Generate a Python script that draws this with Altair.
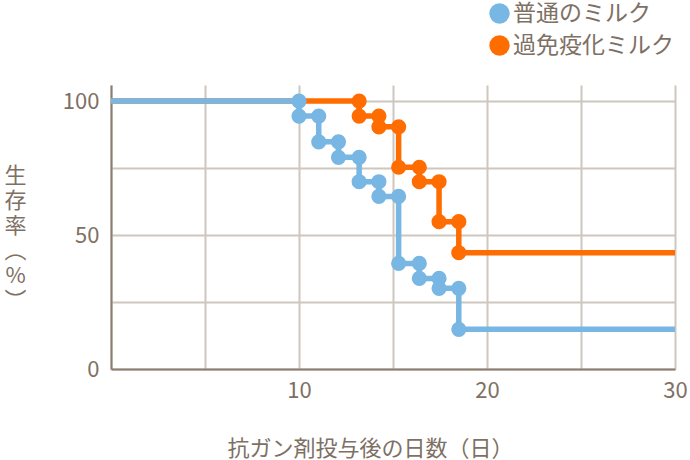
import altair as alt
import pandas as pd

# ---- data ----
series_names = ["普通のミルク", "過免疫化ミルク"]
series_colors = ["#78b6e3", "#ff6c00"]

start_day = 0
end_day = 30
start_survival = 100

normal_days = [10, 11.05, 12.1, 13.2, 14.25, 15.3, 16.4, 17.45, 18.5]
normal_surv = [94.4, 84.8, 79.0, 69.9, 64.4, 39.4, 33.8, 30.1, 14.8]

immune_days = [13.2, 14.25, 15.3, 16.4, 17.45, 18.5]
immune_surv = [94.4, 90.4, 75.3, 69.9, 55.0, 43.4]

x_grid = [0, 5, 10, 15, 20, 25, 30]
y_grid = [0, 25, 50, 75, 100]

TEXT = "#7e7064"
GRID = "#cdc7c0"
AXIS = "#8a7c70"
FONT = "Noto Sans CJK JP"

# ---- tables ----
line_rows, point_rows = [], []
for name, days, surv in [(series_names[0], normal_days, normal_surv),
                         (series_names[1], immune_days, immune_surv)]:
    line_rows.append({"series": name, "day": start_day, "surv": start_survival})
    prev = start_survival
    for d, s in zip(days, surv):
        line_rows.append({"series": name, "day": d, "surv": s})
        point_rows.append({"series": name, "day": d, "surv": prev})
        point_rows.append({"series": name, "day": d, "surv": s})
        prev = s
    line_rows.append({"series": name, "day": end_day, "surv": prev})

lines = pd.DataFrame(line_rows)
points = pd.DataFrame(point_rows)

xs = alt.Scale(domain=[0, 30], nice=False, zero=False)
ys = alt.Scale(domain=[0, 106], nice=False)
cscale = alt.Scale(domain=series_names, range=series_colors)

x_axis = alt.Axis(
    values=x_grid, grid=True, ticks=False, labelPadding=11, labelFlush=False,
    labelOverlap=False,
    labelExpr="datum.value % 10 === 0 && datum.value > 0 ? datum.label : ''",
    title="抗ガン剤投与後の日数（日）", titleX=259, titleY=79,
    titleBaseline="middle", titleAnchor="middle", titleAlign="center",
)
y_axis = alt.Axis(
    values=y_grid, grid=True, ticks=False, labelPadding=12, labelFlush=False,
    labelOverlap=False,
    labelExpr="datum.value % 50 === 0 ? datum.label : ''",
    title=["生", "存", "率", "︵", "%", "︶"], titleAngle=0,
    titleX=-96, titleY=90, titleAlign="center", titleBaseline="middle",
    titleLineHeight=25,
)

def line_layer(i):
    return alt.Chart(lines).transform_filter(
        alt.datum.series == series_names[i]
    ).mark_line(strokeWidth=5.5, interpolate="step-after", color=series_colors[i]).encode(
        x=alt.X("day:Q", scale=xs, axis=x_axis),
        y=alt.Y("surv:Q", scale=ys, axis=y_axis),
    )

pts = alt.Chart(points).mark_circle(size=230, opacity=1).encode(
    x=alt.X("day:Q", scale=xs, axis=x_axis),
    y=alt.Y("surv:Q", scale=ys, axis=y_axis),
    color=alt.Color(
        "series:N", scale=cscale,
        legend=alt.Legend(
            title=None, orient="none", legendX=377, legendY=-83,
            symbolType="circle", symbolSize=415, symbolStrokeWidth=0,
            labelFontSize=23, labelFont=FONT, labelColor=TEXT,
            labelOffset=2, rowPadding=8, padding=0, labelLimit=300,
        ),
    ),
)

chart = alt.layer(line_layer(1), line_layer(0), pts).properties(
    width=564, height=284,
    padding={"left": 111, "top": 85, "right": 15, "bottom": 91},
    autosize=alt.AutoSizeParams(type="none"),
).configure_view(stroke=None).configure_axis(
    labelFont=FONT, labelFontSize=22, labelColor=TEXT,
    titleFont=FONT, titleFontSize=22, titleColor=TEXT, titleFontWeight="normal",
    gridColor=GRID, gridWidth=2, domainColor=AXIS, domainWidth=2,
)

chart.save("out.html", embed_options={"renderer": "svg", "actions": False})
